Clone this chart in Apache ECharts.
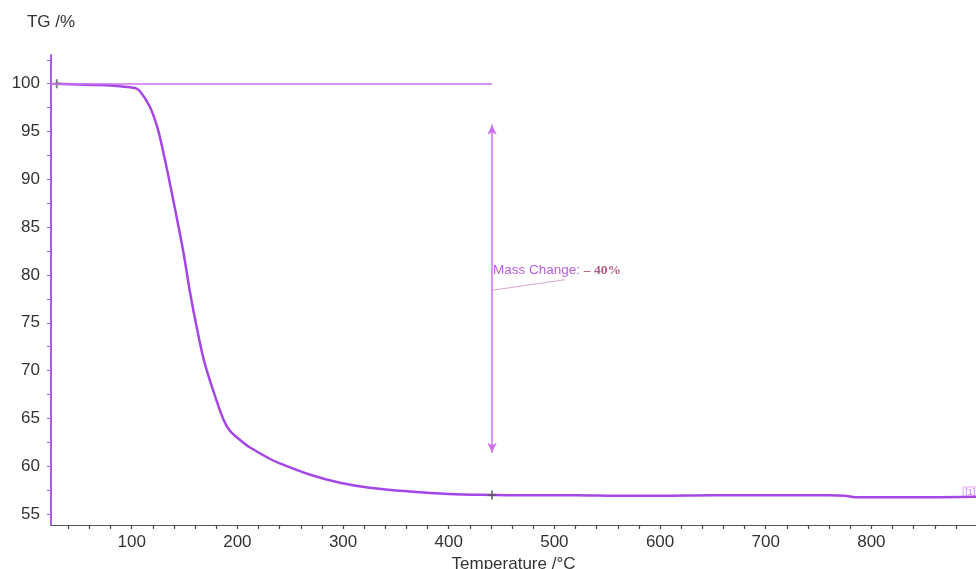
<!DOCTYPE html>
<html>
<head>
<meta charset="utf-8">
<script src="https://cdn.jsdelivr.net/npm/echarts@6/dist/echarts.min.js"></script>
<style>
  html, body { margin: 0; padding: 0; background: #fff; }
  #chart { width: 976px; height: 569px; }
</style>
</head>
<body>
<div id="chart"></div>
<script>
// TG curve
const temps = [29, 50, 70, 89, 103, 108, 117, 124, 130, 136, 143, 149, 155, 162, 169, 179, 187, 193, 206, 212, 231, 240, 269, 297, 325, 363, 400, 441, 480, 520, 560, 600, 650, 700, 760, 775, 785, 850, 899];
const tgValues = [100.0, 99.92, 99.85, 99.72, 99.55, 99.19, 97.62, 95.53, 92.78, 89.64, 85.77, 82.32, 78.3, 74.26, 70.8, 67.28, 64.84, 63.7, 62.43, 61.95, 60.75, 60.3, 59.1, 58.26, 57.74, 57.35, 57.1, 57.0, 56.95, 56.95, 56.9, 56.9, 56.95, 56.95, 56.95, 56.9, 56.75, 56.75, 56.8];

// axis ticks
const xLabels = [100, 200, 300, 400, 500, 600, 700, 800];
const xTicks = [40, 60, 80, 100, 120, 140, 160, 180, 200, 220, 240, 260, 280, 300, 320, 340, 360, 380, 400, 420, 440, 460, 480, 500, 520, 540, 560, 580, 600, 620, 640, 660, 680, 700, 720, 740, 760, 780, 800, 820, 840, 860, 880];
const yLabels = [55, 60, 65, 70, 75, 80, 85, 90, 95, 100];
const yTicks = [55, 57.5, 60, 62.5, 65, 67.5, 70, 72.5, 75, 77.5, 80, 82.5, 85, 87.5, 90, 92.5, 95, 97.5, 100, 102.5];

// mass change step
const stepTemp = 441;
const stepStart = 100;
const arrowTop = 95.7;
const arrowBottom = 61.4;
const massChange = '– 40%';
const markerTemps = [29, 441];
const markerValues = [100.0, 57.0];

const chart = echarts.init(document.getElementById('chart'));

const crossPath = 'path://M4,0h2v10h-2zM0,4h10v2h-10z';

const option = {
  animation: false,
  backgroundColor: '#fff',
  grid: {
    left: 51,
    right: 0,
    top: 55,
    bottom: 44,
    outerBoundsMode: 'none',
  },
  xAxis: {
    type: 'value',
    min: 23.6,
    max: 899,
    name: 'Temperature /°C',
    nameLocation: 'middle',
    nameGap: 27,
    nameTextStyle: { fontFamily: 'Liberation Sans', fontSize: 17, color: '#333' },
    splitLine: { show: false },
    axisLine: { show: true, lineStyle: { color: '#555', width: 1 } },
    axisTick: { show: true, customValues: xTicks, length: 4, lineStyle: { color: '#444', width: 1.2 } },
    axisLabel: {
      customValues: xLabels,
      margin: 9,
      fontFamily: 'Liberation Sans',
      fontSize: 17,
      color: '#333',
    },
  },
  yAxis: {
    type: 'value',
    min: 53.85,
    max: 103,
    name: 'TG /%',
    nameGap: 24,
    nameTextStyle: { fontFamily: 'Liberation Sans', fontSize: 17, color: '#333' },
    splitLine: { show: false },
    axisLine: { show: true, lineStyle: { color: '#b05ae8', width: 2 } },
    axisTick: { show: true, customValues: yTicks, length: 4, lineStyle: { color: '#b05ae8' } },
    axisLabel: {
      customValues: yLabels,
      margin: 11,
      fontFamily: 'Liberation Sans',
      fontSize: 17,
      color: '#333',
    },
  },
  series: [
    {
      name: 'TG',
      type: 'line',
      data: temps.map((t, i) => [t, tgValues[i]]),
      smooth: 0.35,
      showSymbol: false,
      silent: true,
      z: 3,
      lineStyle: { color: '#a447e6', width: 2.5 },
      markLine: {
        silent: true,
        animation: false,
        label: { show: false },
        data: [
          [
            { coord: [23.6, stepStart], symbol: 'none' },
            { coord: [stepTemp, stepStart], symbol: 'none' },
          ],
          [
            { coord: [stepTemp, arrowTop], symbol: 'arrow', symbolSize: [7, 10] },
            { coord: [stepTemp, arrowBottom], symbol: 'arrow', symbolSize: [7, 10] },
          ],
        ],
        lineStyle: { color: '#cc70f0', width: 1.5, type: 'solid' },
      },
    },
    {
      name: 'markers',
      type: 'scatter',
      data: markerTemps.map((t, i) => [t, markerValues[i]]),
      symbol: crossPath,
      symbolSize: 9,
      silent: true,
      z: 4,
      itemStyle: { color: '#555' },
    },
    {
      name: 'leader',
      type: 'line',
      data: [[stepTemp, 78.4], [510, 79.5]],
      showSymbol: false,
      silent: true,
      lineStyle: { color: '#d9a2cf', width: 1 },
    },
    {
      name: 'labels',
      type: 'scatter',
      symbolSize: 0,
      silent: true,
      data: [
        { value: [stepTemp, 80.5], label: { formatter: '{a|Mass Change: }{b|' + massChange + '}' } },
        { value: [886, 57.3], label: { formatter: '{c|[1]}' } },
      ],
      label: {
        show: true,
        position: 'right',
        distance: 1,
        rich: {
          a: { fontFamily: 'Liberation Sans', fontSize: 13.5, color: '#a933dc' },
          b: { fontFamily: 'Liberation Serif', fontSize: 13.5, fontWeight: 'bold', color: '#a0306a' },
          c: {
            fontFamily: 'Liberation Sans', fontSize: 9, color: '#c050e0',
            borderColor: '#d890ee', borderWidth: 1, padding: [1, 2, 0, 2],
          },
        },
      },
    },
  ],
};

chart.setOption(option);
</script>
</body>
</html>
